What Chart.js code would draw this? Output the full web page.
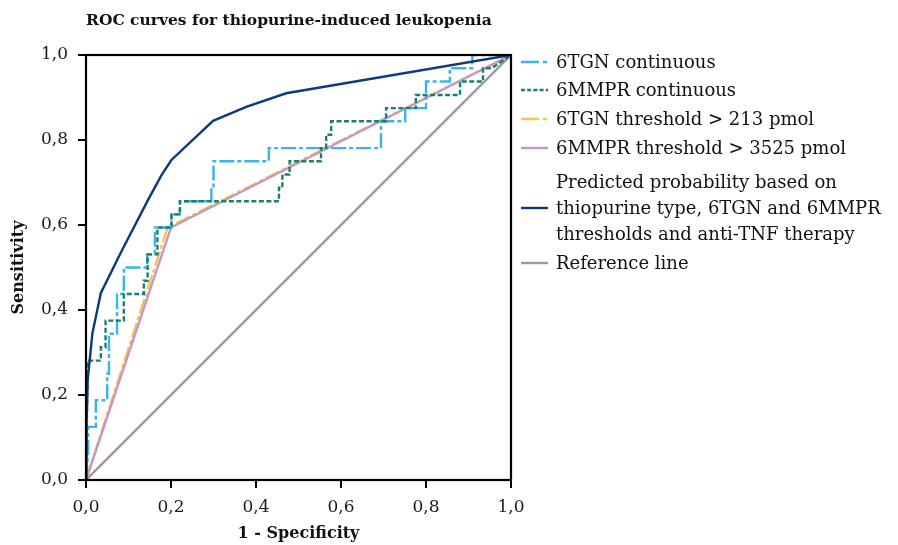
<!DOCTYPE html>
<html>
<head>
<meta charset="utf-8">
<script src="https://cdn.jsdelivr.net/npm/chart.js@4.4.0/dist/chart.umd.min.js"></script>
<style>
  body { margin: 0; background: #fff; }
  #wrap { position: relative; width: 898px; height: 545px; }
  #titulo { position: absolute; left: 86px; top: 10px; font: bold 15.5px "DejaVu Serif"; line-height: 20px; color: #111; white-space: nowrap; }
  .fila { position: absolute; left: 520px; display: flex; align-items: center; font: 18px "DejaVu Serif"; line-height: 26px; color: #111; white-space: nowrap; }
  .fila svg { margin-right: 8px; flex: none; }
</style>
</head>
<body>
<div id="wrap">
  <canvas id="grafico" width="898" height="545"></canvas>
  <div id="titulo">ROC curves for thiopurine-induced leukopenia</div>
  <div id="leyenda"></div>
</div>
<script>
// 6TGN continuous
const tgnContX = [0, 0.005, 0.005, 0.023, 0.023, 0.050, 0.050, 0.054, 0.054, 0.073, 0.073, 0.089, 0.089, 0.144, 0.144, 0.162, 0.162, 0.201, 0.201, 0.221, 0.221, 0.295, 0.295, 0.300, 0.300, 0.430, 0.430, 0.694, 0.694, 0.751, 0.751, 0.800, 0.800, 0.856, 0.856, 0.909, 0.909, 1];
const tgnContY = [0, 0.0625, 0.125, 0.125, 0.1875, 0.1875, 0.25, 0.25, 0.344, 0.344, 0.4375, 0.4375, 0.5, 0.5, 0.531, 0.531, 0.594, 0.594, 0.625, 0.625, 0.656, 0.656, 0.6875, 0.6875, 0.75, 0.75, 0.781, 0.781, 0.844, 0.844, 0.875, 0.875, 0.9375, 0.9375, 0.969, 0.969, 1, 1];
// 6MMPR continuous
const mmprContX = [0, 0.004, 0.035, 0.035, 0.046, 0.046, 0.089, 0.089, 0.136, 0.136, 0.145, 0.145, 0.168, 0.168, 0.201, 0.201, 0.221, 0.221, 0.454, 0.454, 0.462, 0.462, 0.479, 0.479, 0.553, 0.553, 0.565, 0.565, 0.577, 0.577, 0.706, 0.706, 0.776, 0.776, 0.880, 0.880, 0.934, 0.934, 0.955, 1];
const mmprContY = [0, 0.281, 0.281, 0.3125, 0.3125, 0.375, 0.375, 0.4375, 0.4375, 0.469, 0.469, 0.531, 0.531, 0.594, 0.594, 0.625, 0.625, 0.656, 0.656, 0.6875, 0.6875, 0.719, 0.719, 0.75, 0.75, 0.781, 0.781, 0.8125, 0.8125, 0.844, 0.844, 0.875, 0.875, 0.906, 0.906, 0.9375, 0.9375, 0.969, 0.969, 1];
// umbrales
const tgnUmbralX = [0, 0.192, 1];
const tgnUmbralY = [0, 0.594, 1];
const mmprUmbralX = [0, 0.200, 1];
const mmprUmbralY = [0, 0.594, 1];
// probabilidad predicha
const prediccionX = [0, 0.001, 0.004, 0.015, 0.035, 0.085, 0.146, 0.178, 0.201, 0.299, 0.377, 0.471, 1];
const prediccionY = [0, 0.12, 0.235, 0.345, 0.44, 0.541, 0.659, 0.718, 0.753, 0.845, 0.878, 0.91, 1];
// linea de referencia
const referenciaX = [0, 1];
const referenciaY = [0, 1];

const xTickLabels = ["0,0", "0,2", "0,4", "0,6", "0,8", "1,0"];
const yTickLabels = ["0,0", "0,2", "0,4", "0,6", "0,8", "1,0"];

const fuente = "DejaVu Serif";

function puntos(xs, ys) {
  return xs.map((x, i) => ({ x: x, y: ys[i] }));
}

const series = [
  { label: ["6TGN continuous"], xs: tgnContX, ys: tgnContY, color: "#3bb5e6", dash: [15, 3, 4, 3], muestra: "18 4 4 2", orden: 2 },
  { label: ["6MMPR continuous"], xs: mmprContX, ys: mmprContY, color: "#1b7f6d", dash: [5, 2.5], muestra: "4 2.2", orden: 1 },
  { label: ["6TGN threshold > 213 pmol"], xs: tgnUmbralX, ys: tgnUmbralY, color: "#f6c352", dash: [15, 3, 4, 3], muestra: "18 4 4 2", orden: 4 },
  { label: ["6MMPR threshold > 3525 pmol"], xs: mmprUmbralX, ys: mmprUmbralY, color: "#c596c6", dash: [], muestra: "", orden: 3 },
  { label: ["Predicted probability based on", "thiopurine type, 6TGN and 6MMPR", "thresholds and anti-TNF therapy"], xs: prediccionX, ys: prediccionY, color: "#0b3b7a", dash: [], muestra: "", orden: 0 },
  { label: ["Reference line"], xs: referenciaX, ys: referenciaY, color: "#9a9a9a", dash: [], muestra: "", orden: 5 }
];

// leyenda en HTML
const filasTop = [48.7, 77, 106, 135.3, 168.7, 249.7];
const leyenda = document.getElementById("leyenda");
series.forEach((s, i) => {
  const fila = document.createElement("div");
  fila.className = "fila";
  fila.style.top = filasTop[i] + "px";
  fila.innerHTML = '<svg width="28" height="6"><line x1="1" y1="3" x2="28" y2="3" stroke="' + s.color +
    '" stroke-width="2.4"' + (s.muestra ? ' stroke-dasharray="' + s.muestra + '"' : '') + '/></svg><div>' +
    s.label.join("<br>") + '</div>';
  leyenda.appendChild(fila);
});

const marco = {
  id: "marco",
  afterDraw(chart) {
    const a = chart.chartArea;
    const ctx = chart.ctx;
    ctx.save();
    ctx.strokeStyle = "#000";
    ctx.lineWidth = 2.2;
    ctx.strokeRect(a.left, a.top, a.right - a.left, a.bottom - a.top);
    ctx.restore();
  }
};

const ctx = document.getElementById("grafico").getContext("2d");
new Chart(ctx, {
  type: "scatter",
  data: {
    datasets: series.map(s => ({
      label: s.label.join(" "),
      data: puntos(s.xs, s.ys),
      showLine: true,
      borderColor: s.color,
      backgroundColor: s.color,
      borderWidth: 2.4,
      borderDash: s.dash,
      pointRadius: 0,
      tension: 0,
      order: s.orden
    }))
  },
  options: {
    responsive: false,
    animation: false,
    layout: { padding: { top: 55, right: 387, left: 0, bottom: 0 } },
    plugins: {
      legend: { display: false },
      tooltip: { enabled: false }
    },
    scales: {
      x: {
        type: "linear",
        min: 0,
        max: 1,
        afterFit(scale) { scale.height = 65; },
        ticks: {
          stepSize: 0.2,
          padding: 9,
          color: "#1a1a1a",
          font: { family: fuente, size: 17 },
          callback: (v, i) => xTickLabels[i]
        },
        grid: { drawOnChartArea: false, drawTicks: true, tickLength: 8, color: "#000", lineWidth: 2 },
        border: { display: true, color: "#000", width: 2 },
        title: { display: true, text: "1 - Specificity", color: "#111", font: { family: fuente, size: 16, weight: "bold" }, padding: { top: 0, bottom: 2 } }
      },
      y: {
        type: "linear",
        min: 0,
        max: 1,
        afterFit(scale) { scale.width = 86; },
        ticks: {
          stepSize: 0.2,
          padding: 10,
          color: "#1a1a1a",
          font: { family: fuente, size: 17 },
          callback: (v, i) => yTickLabels[i]
        },
        grid: { drawOnChartArea: false, drawTicks: true, tickLength: 8, color: "#000", lineWidth: 2 },
        border: { display: true, color: "#000", width: 2 },
        title: { display: true, text: "Sensitivity", color: "#111", font: { family: fuente, size: 16, weight: "bold" }, padding: { top: 9, bottom: 0 } }
      }
    }
  },
  plugins: [marco]
});
</script>
</body>
</html>
